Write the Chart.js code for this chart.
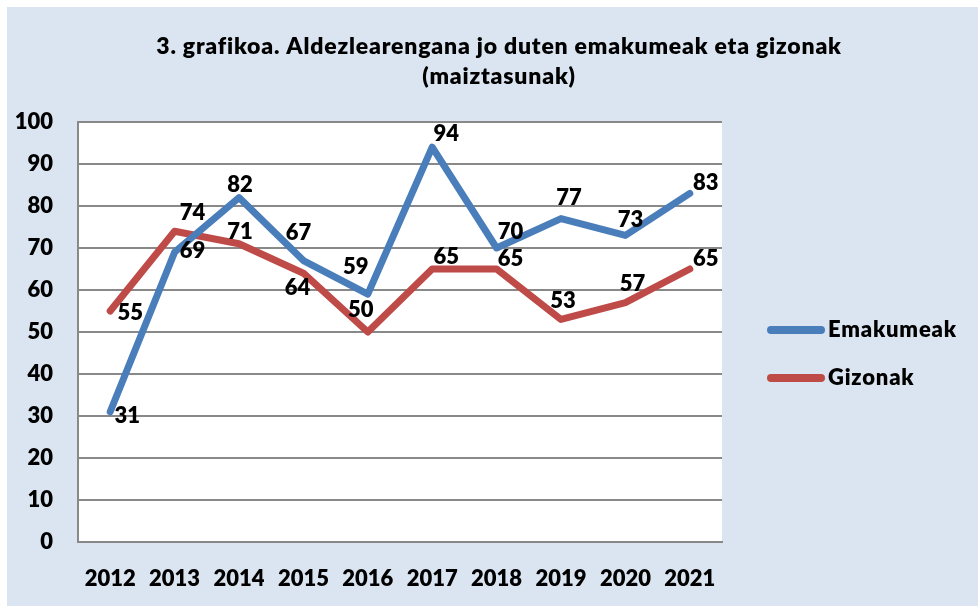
<!DOCTYPE html>
<html>
<head>
<meta charset="utf-8">
<script src="https://cdn.jsdelivr.net/npm/chart.js@4/dist/chart.umd.min.js"></script>
<style>
	html, body { margin: 0; padding: 0; background: #ffffff; }
	#wrap { width: 978px; height: 606px; position: relative; }
</style>
</head>
<body>
<div id="wrap"><canvas id="canvas0" width="978" height="606"></canvas></div>
<script>
// chart data
const years = ['2012', '2013', '2014', '2015', '2016', '2017', '2018', '2019', '2020', '2021'];
const emakumeak = [31, 69, 82, 67, 59, 94, 70, 77, 73, 83];
const gizonak = [55, 74, 71, 64, 50, 65, 65, 53, 57, 65];
const seriesNames = ['Emakumeak', 'Gizonak'];
const titleLines = ['3. grafikoa. Aldezlearengana jo duten emakumeak eta gizonak', '(maiztasunak)'];

// where each value label sits relative to its point (px)
const labelDx = [
	[17, 18, 1, -5, -12, 14, 14, 8, 5, 16],
	[20, 18, 1, -6, -7, 14, 14, 2, 7, 16]
];
const labelDy = [
	[4, -1, -13, -28, -27, -13, -16, -21, -15, -10],
	[2, -18, -12, 15, -22, -12, -10, -18, -19, -10]
];

const FONT = 'Lato, "Open Sans", sans-serif';
const BLUE = '#4A7EBB';
const RED = '#BE4B48';
const GRID = '#898989';


/**
 * Background: white margin, blue panel, white plot area, title.
 */
const backgroundPlugin = {
	id: 'background',
	beforeDraw(chart) {
		const ctx = chart.ctx;
		const a = chart.chartArea;
		ctx.save();
		ctx.fillStyle = '#ffffff';
		ctx.fillRect(0, 0, chart.width, chart.height);
		ctx.fillStyle = '#DBE5F1';
		ctx.fillRect(7, 7, chart.width - 7, chart.height - 7);
		ctx.fillStyle = '#ffffff';
		ctx.fillRect(a.left, a.top, a.right - a.left, a.bottom - a.top);

		ctx.fillStyle = '#000000';
		ctx.font = '800 23px ' + FONT;
		ctx.letterSpacing = '0.8px';
		ctx.textAlign = 'center';
		ctx.textBaseline = 'alphabetic';
		ctx.fillText(titleLines[0], 499, 54);
		ctx.fillText(titleLines[1], 499, 84);
		ctx.restore();
	}
};


/**
 * Value labels next to every point.
 */
const valueLabelPlugin = {
	id: 'valueLabels',
	afterDatasetsDraw(chart) {
		const ctx = chart.ctx;
		ctx.save();
		ctx.font = '800 22px ' + FONT;
		ctx.fillStyle = '#000000';
		ctx.textAlign = 'center';
		ctx.textBaseline = 'middle';
		chart.data.datasets.forEach((ds, d) => {
			const meta = chart.getDatasetMeta(d);
			meta.data.forEach((pt, i) => {
				ctx.fillText(String(ds.data[i]), pt.x + labelDx[d][i], pt.y + labelDy[d][i]);
			});
		});
		ctx.restore();
	}
};


/**
 * Legend at the right, line swatch + name.
 */
const sideLegendPlugin = {
	id: 'sideLegend',
	afterDraw(chart) {
		const ctx = chart.ctx;
		const x0 = 767, x1 = 825;
		const ys = [330, 378];
		ctx.save();
		chart.data.datasets.forEach((ds, d) => {
			ctx.strokeStyle = ds.borderColor;
			ctx.lineWidth = 8;
			ctx.lineCap = 'round';
			ctx.beginPath();
			ctx.moveTo(x0 + 4, ys[d]);
			ctx.lineTo(x1 - 4, ys[d]);
			ctx.stroke();
			ctx.font = '800 22px ' + FONT;
			ctx.letterSpacing = '0.8px';
			ctx.fillStyle = '#000000';
			ctx.textAlign = 'left';
			ctx.textBaseline = 'middle';
			ctx.fillText(ds.label, x1 + 3, ys[d]);
		});
		ctx.restore();
	}
};


const ctx = document.getElementById('canvas0').getContext('2d');

new Chart(ctx, {
	type: 'line',
	data: {
		labels: years,
		datasets: [{
			label: seriesNames[0],
			data: emakumeak,
			borderColor: BLUE,
			backgroundColor: BLUE,
			borderWidth: 7,
			pointRadius: 0,
			borderJoinStyle: 'round',
			borderCapStyle: 'round',
			tension: 0
		}, {
			label: seriesNames[1],
			data: gizonak,
			borderColor: RED,
			backgroundColor: RED,
			borderWidth: 7,
			pointRadius: 0,
			borderJoinStyle: 'round',
			borderCapStyle: 'round',
			tension: 0
		}]
	},
	options: {
		responsive: false,
		animation: false,
		layout: {
			padding: { left: 7, top: 122, right: 256, bottom: 0 }
		},
		plugins: {
			legend: { display: false },
			tooltip: { enabled: false },
			title: { display: false }
		},
		scales: {
			x: {
				offset: true,
				grid: { display: false, drawTicks: false },
				border: { display: true, color: GRID, width: 2 },
				ticks: {
					color: '#000000',
					padding: 24,
					maxRotation: 0,
					font: { family: FONT, size: 22, weight: '800' }
				},
				afterFit(scale) { scale.height = 64; }
			},
			y: {
				min: 0,
				max: 100,
				grid: { color: GRID, lineWidth: 2, drawTicks: false },
				border: { display: true, color: GRID, width: 2 },
				ticks: {
					stepSize: 10,
					color: '#000000',
					padding: 25,
					font: { family: FONT, size: 22, weight: '800' }
				},
				afterFit(scale) { scale.width = 71; }
			}
		}
	},
	plugins: [backgroundPlugin, valueLabelPlugin, sideLegendPlugin]
});
</script>
</body>
</html>
